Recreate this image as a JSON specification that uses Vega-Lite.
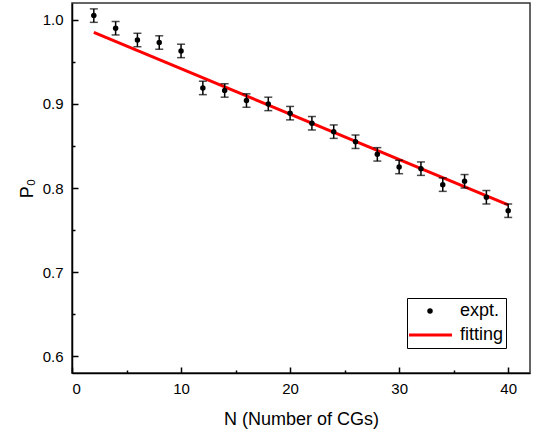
{
  "$schema": "https://vega.github.io/schema/vega-lite/v6.json",
  "width": 458,
  "height": 370,
  "autosize": "none",
  "padding": {"left": 72, "top": 3, "right": 13, "bottom": 62},
  "background": "white",
  "config": {
    "view": {"stroke": "#333", "strokeWidth": 1.5},
    "font": "Liberation Sans"
  },
  "datasets": {
    "expt": [
      {"N": 2, "P": 1.005, "lo": 0.997, "hi": 1.013, "series": "expt."},
      {"N": 4, "P": 0.990, "lo": 0.982, "hi": 0.998, "series": "expt."},
      {"N": 6, "P": 0.976, "lo": 0.968, "hi": 0.984, "series": "expt."},
      {"N": 8, "P": 0.973, "lo": 0.965, "hi": 0.981, "series": "expt."},
      {"N": 10, "P": 0.963, "lo": 0.955, "hi": 0.971, "series": "expt."},
      {"N": 12, "P": 0.919, "lo": 0.911, "hi": 0.927, "series": "expt."},
      {"N": 14, "P": 0.916, "lo": 0.908, "hi": 0.924, "series": "expt."},
      {"N": 16, "P": 0.904, "lo": 0.896, "hi": 0.912, "series": "expt."},
      {"N": 18, "P": 0.900, "lo": 0.892, "hi": 0.908, "series": "expt."},
      {"N": 20, "P": 0.889, "lo": 0.881, "hi": 0.897, "series": "expt."},
      {"N": 22, "P": 0.877, "lo": 0.869, "hi": 0.885, "series": "expt."},
      {"N": 24, "P": 0.867, "lo": 0.859, "hi": 0.875, "series": "expt."},
      {"N": 26, "P": 0.855, "lo": 0.847, "hi": 0.863, "series": "expt."},
      {"N": 28, "P": 0.840, "lo": 0.832, "hi": 0.848, "series": "expt."},
      {"N": 30, "P": 0.825, "lo": 0.817, "hi": 0.833, "series": "expt."},
      {"N": 32, "P": 0.823, "lo": 0.815, "hi": 0.831, "series": "expt."},
      {"N": 34, "P": 0.804, "lo": 0.796, "hi": 0.812, "series": "expt."},
      {"N": 36, "P": 0.808, "lo": 0.800, "hi": 0.816, "series": "expt."},
      {"N": 38, "P": 0.789, "lo": 0.781, "hi": 0.797, "series": "expt."},
      {"N": 40, "P": 0.773, "lo": 0.765, "hi": 0.781, "series": "expt."}
    ],
    "fit": [
      {"N": 2, "P": 0.985, "series": "fitting"},
      {"N": 40, "P": 0.780, "series": "fitting"}
    ]
  },
  "layer": [
    {
      "data": {"name": "fit"},
      "mark": {"type": "line", "strokeWidth": 3},
      "encoding": {
        "x": {
          "field": "N", "type": "quantitative",
          "scale": {"domain": [0, 42], "nice": false, "zero": false},
          "axis": {
            "title": "N (Number of CGs)",
            "values": [0, 5, 10, 15, 20, 25, 30, 35, 40],
            "labelExpr": "datum.value % 10 === 0 ? datum.label : ''",
            "tickSize": {"condition": {"test": "datum.value % 10 === 0", "value": -6}, "value": -3},
            "tickColor": "black", "tickWidth": 1.5,
            "domainColor": "black", "domainWidth": 1.5,
            "labelFontSize": 15, "labelColor": "black", "labelFont": "Liberation Sans",
            "labelPadding": 14,
            "titleFontSize": 18, "titleFontWeight": "normal", "titleColor": "black", "titleFont": "Liberation Sans",
            "titlePadding": 14,
            "grid": false
          }
        },
        "y": {
          "field": "P", "type": "quantitative",
          "scale": {"domain": [0.58, 1.02], "nice": false, "zero": false},
          "axis": {
            "title": "P₀",
            "values": [0.6, 0.65, 0.7, 0.75, 0.8, 0.85, 0.9, 0.95, 1.0],
            "format": ".1f",
            "labelExpr": "round(datum.value * 100) % 10 === 0 ? datum.label : ''",
            "tickSize": {"condition": {"test": "round(datum.value * 100) % 10 === 0", "value": -6}, "value": -3},
            "tickColor": "black", "tickWidth": 1.5,
            "domainColor": "black", "domainWidth": 1.5,
            "labelFontSize": 15, "labelColor": "black", "labelFont": "Liberation Sans",
            "labelPadding": 15,
            "titleFontSize": 18, "titleFontWeight": "normal", "titleColor": "black", "titleFont": "Liberation Sans",
            "titlePadding": 6,
            "grid": false
          }
        },
        "color": {
          "field": "series", "type": "nominal",
          "scale": {"domain": ["expt.", "fitting"], "range": ["black", "red"]},
          "legend": {
            "title": null,
            "orient": "none",
            "legendX": 335,
            "legendY": 295,
            "strokeColor": "black",
            "fillColor": "white",
            "padding": 2,
            "symbolSize": 1936,
            "clipHeight": 22,
            "rowPadding": 2,
            "symbolOffset": 12,
            "labelOffset": 21,
            "labelFontSize": 18,
            "labelFont": "Liberation Sans",
            "labelColor": "black",
            "encode": {
              "symbols": {
                "update": {
                  "shape": {"signal": "datum.value === 'fitting' ? 'stroke' : 'circle'"},
                  "size": {"signal": "datum.value === 'fitting' ? 1936 : 30"},
                  "fill": {"signal": "datum.value === 'fitting' ? 'transparent' : 'black'"},
                  "stroke": {"signal": "datum.value === 'fitting' ? 'red' : 'transparent'"},
                  "strokeWidth": {"signal": "datum.value === 'fitting' ? 3 : 0"},
                  "opacity": {"value": 1}
                }
              }
            }
          }
        }
      }
    },
    {
      "data": {"name": "expt"},
      "mark": {"type": "rule", "strokeWidth": 1.5, "color": "black"},
      "encoding": {
        "x": {"field": "N", "type": "quantitative"},
        "y": {"field": "lo", "type": "quantitative"},
        "y2": {"field": "hi"}
      }
    },
    {
      "data": {"name": "expt"},
      "mark": {"type": "tick", "orient": "horizontal", "size": 8, "thickness": 1.5, "color": "black"},
      "encoding": {
        "x": {"field": "N", "type": "quantitative"},
        "y": {"field": "lo", "type": "quantitative"}
      }
    },
    {
      "data": {"name": "expt"},
      "mark": {"type": "tick", "orient": "horizontal", "size": 8, "thickness": 1.5, "color": "black"},
      "encoding": {
        "x": {"field": "N", "type": "quantitative"},
        "y": {"field": "hi", "type": "quantitative"}
      }
    },
    {
      "data": {"name": "expt"},
      "mark": {"type": "point", "filled": true, "size": 30, "opacity": 1},
      "encoding": {
        "x": {"field": "N", "type": "quantitative"},
        "y": {"field": "P", "type": "quantitative"},
        "color": {"field": "series", "type": "nominal"}
      }
    }
  ]
}
